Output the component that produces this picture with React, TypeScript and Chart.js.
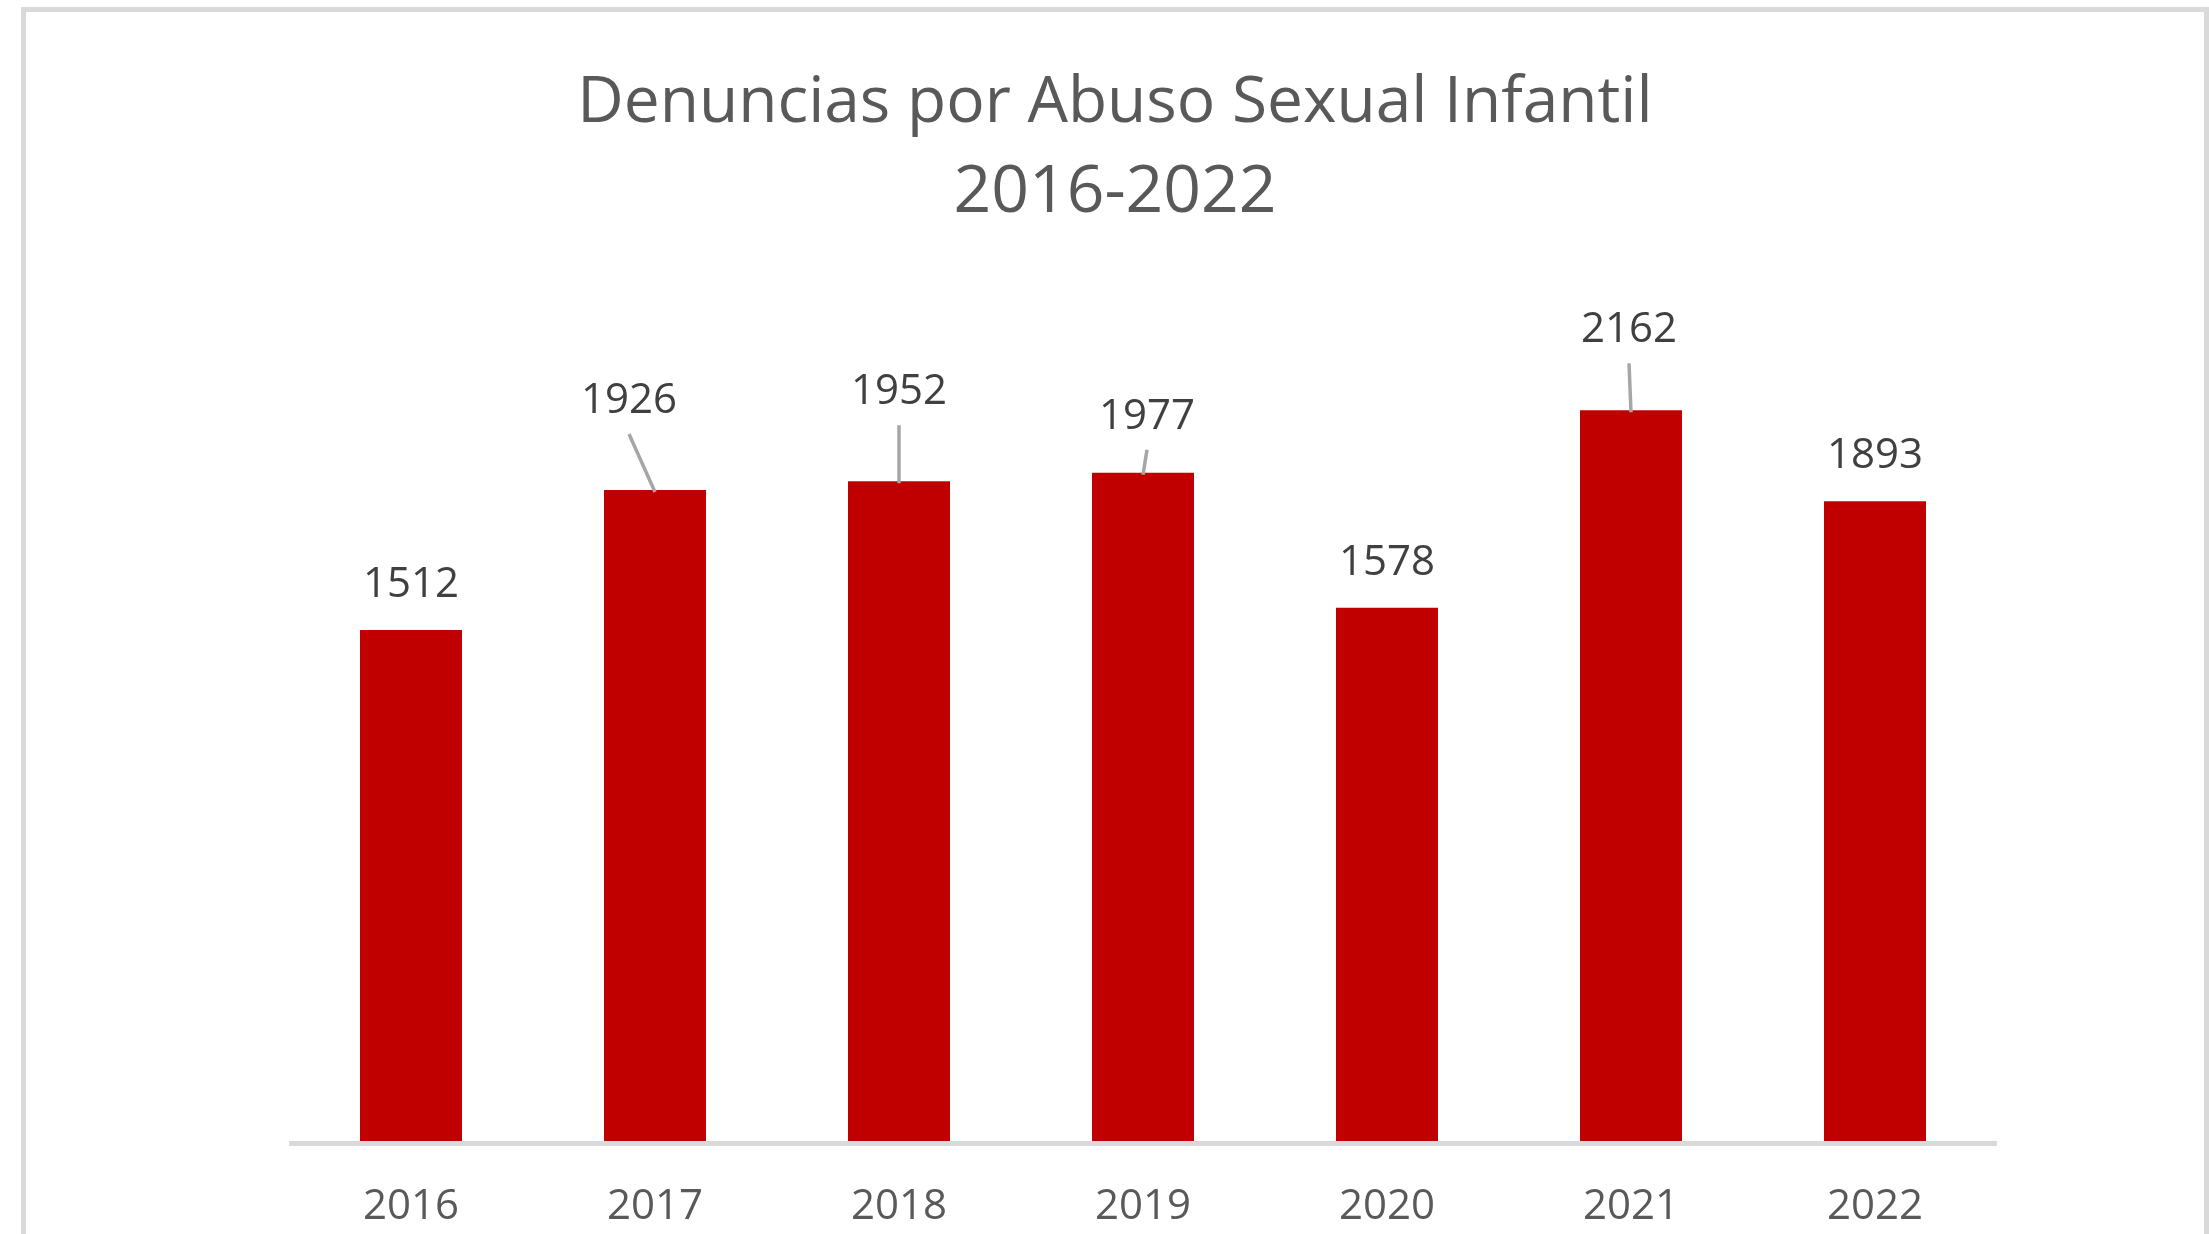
import React, { useEffect, useRef } from "react";
import { Chart, registerables } from "chart.js";

Chart.register(...registerables);

const titleLines = ["Denuncias por Abuso Sexual Infantil", "2016-2022"];
const years = ["2016", "2017", "2018", "2019", "2020", "2021", "2022"];
const denuncias = [1512, 1926, 1952, 1977, 1578, 2162, 1893];
// manual label displacement (dx, dy) in px, as in the source chart; labels moved get a leader line
const labelShiftX = [0, -26, 0, 4, 0, -2, 0];
const labelShiftY = [0, -44, -44, -11, 0, -35, 0];

const W = 2209;
const H = 1234;
const FONT = "'Open Sans', 'Noto Sans', sans-serif";

const framePlugin = {
  id: "frame",
  beforeDraw(chart: any) {
    const ctx = chart.ctx;
    ctx.save();
    ctx.fillStyle = "#ffffff";
    ctx.fillRect(0, 0, chart.width, chart.height);
    ctx.strokeStyle = "#d9d9d9";
    ctx.lineWidth = 5;
    ctx.strokeRect(23.5, 9.5, 2183, 1400);
    // title
    ctx.fillStyle = "#595959";
    ctx.font = `64px ${FONT}`;
    ctx.textAlign = "center";
    ctx.textBaseline = "alphabetic";
    ctx.fillText(titleLines[0], 1115, 122);
    ctx.font = `66px ${FONT}`;
    ctx.fillText(titleLines[1], 1115, 212);
    ctx.restore();
  },
  beforeDatasetsDraw(chart: any) {
    const ctx = chart.ctx;
    const a = chart.chartArea;
    ctx.save();
    ctx.fillStyle = "#d9d9d9";
    ctx.fillRect(a.left, a.bottom, a.right - a.left, 5);
    ctx.restore();
  },
  afterDatasetsDraw(chart: any) {
    const ctx = chart.ctx;
    const meta = chart.getDatasetMeta(0);
    ctx.save();
    ctx.font = `42px ${FONT}`;
    ctx.textAlign = "center";
    ctx.textBaseline = "alphabetic";
    meta.data.forEach((bar: any, i: number) => {
      const dx = labelShiftX[i];
      const dy = labelShiftY[i];
      const lx = bar.x + dx;
      const base = bar.y - 33 + dy;
      ctx.fillStyle = "#404040";
      ctx.fillText(String(denuncias[i]), lx, base);
      if (dx !== 0 || dy !== 0) {
        ctx.strokeStyle = "#a6a6a6";
        ctx.lineWidth = 3.5;
        ctx.beginPath();
        ctx.moveTo(lx, base + 21);
        ctx.lineTo(bar.x, bar.y + 2);
        ctx.stroke();
      }
    });
    ctx.restore();
  },
};

export default function App() {
  const ref = useRef<HTMLCanvasElement>(null);
  useEffect(() => {
    if (!ref.current) return;
    const chart = new Chart(ref.current, {
      type: "bar",
      data: {
        labels: years,
        datasets: [
          {
            data: denuncias,
            backgroundColor: "#c00000",
            borderWidth: 0,
            barPercentage: 0.418,
            categoryPercentage: 1,
          },
        ],
      },
      options: {
        responsive: false,
        animation: false,
        devicePixelRatio: 1,
        layout: { padding: { left: 289, right: 212, top: 296, bottom: 0 } },
        plugins: {
          legend: { display: false },
          title: { display: false },
          tooltip: { enabled: false },
        },
        scales: {
          x: {
            grid: { display: false, drawTicks: false },
            border: { display: false },
            ticks: {
              color: "#595959",
              font: { family: FONT, size: 42, lineHeight: 1.2 },
              padding: 40.5,
              maxRotation: 0,
              autoSkip: false,
            },
            afterFit: (scale: any) => {
              scale.height = 93;
            },
          },
          y: {
            display: false,
            min: 0,
            max: 2500,
          },
        },
      },
      plugins: [framePlugin],
    });
    return () => chart.destroy();
  }, []);
  return (
    <div style={{ position: "absolute", left: 0, top: 0, width: W, height: H, background: "#fff" }}>
      <canvas ref={ref} width={W} height={H} style={{ display: "block", width: W, height: H }} />
    </div>
  );
}
